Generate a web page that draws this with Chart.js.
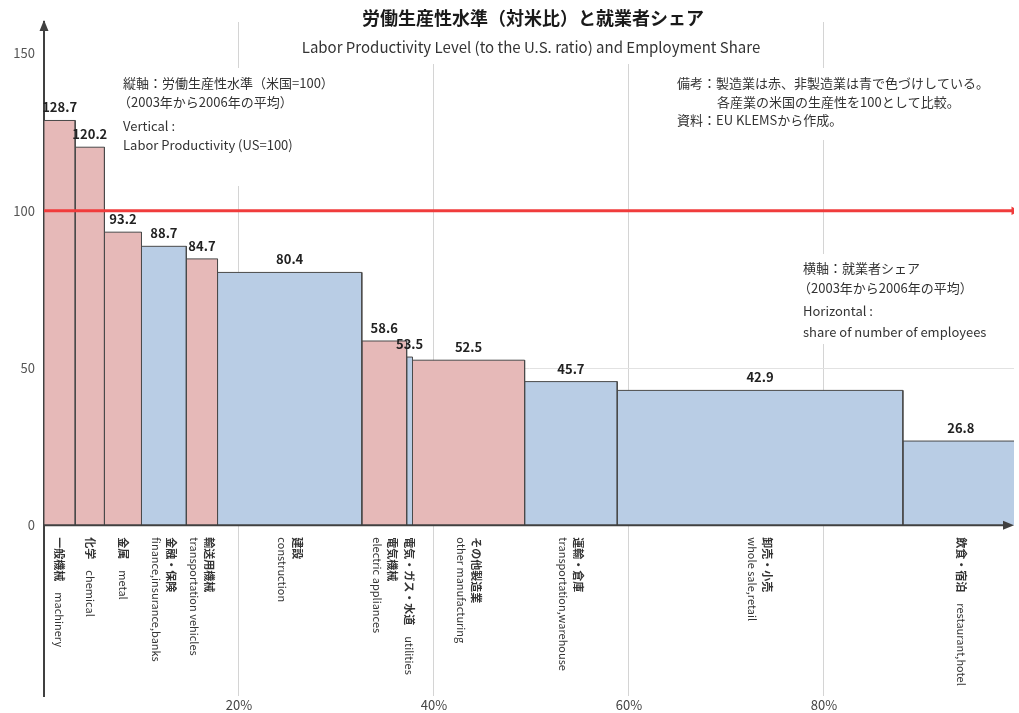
<!DOCTYPE html>
<html>
<head>
<meta charset="utf-8">
<title>労働生産性水準（対米比）と就業者シェア</title>
<script src="https://cdn.jsdelivr.net/npm/chart.js@4.4.0/dist/chart.umd.min.js"></script>
<style>
  html, body { margin: 0; padding: 0; background: #fff; }
  #wrap { width: 1019px; height: 713px; position: relative; }
</style>
</head>
<body>
<div id="wrap"><canvas id="chart"></canvas></div>
<script>
// Data
var catLabels = [
  ['一般機械　machinery'],
  ['化学　chemical'],
  ['金属　metal'],
  ['金融・保険', 'finance,insurance,banks'],
  ['輸送用機械', 'transportation vehicles'],
  ['建設', 'construction'],
  ['電気機械', 'electric appliances'],
  ['電気・ガス・水道　utilities'],
  ['その他製造業', 'other manufacturing'],
  ['運輸・倉庫', 'transportation,warehouse'],
  ['卸売・小売', 'whole sale,retail'],
  ['飲食・宿泊　restaurant,hotel']
];
// horizontal: share of employees (%)
var employShare = [3.2, 3.0, 3.8, 4.6, 3.2, 14.8, 4.6, 0.6, 11.5, 9.5, 29.3, 11.9];
// vertical: labor productivity (US = 100)
var productivity = [128.7, 120.2, 93.2, 88.7, 84.7, 80.4, 58.6, 53.5, 52.5, 45.7, 42.9, 26.8];
var isManufacturing = [true, true, true, false, true, false, true, false, true, false, false, false];
var usLevel = 100;
var yTicks = [0, 50, 100, 150];
var xTicks = [20, 40, 60, 80];

var FONT = '"Noto Sans CJK JP", "Noto Sans", sans-serif';
var RED_FILL = '#e6b9b8';
var BLUE_FILL = '#b9cde5';
var EDGE = '#4a4a4a';
var AXIS = '#404040';
var X_MAX = 99.5;

Chart.defaults.font.family = FONT;

// left edge of every bar = running sum of the shares before it
var shareStart = [];
var running = 0;
employShare.forEach(function(s) {
  shareStart.push(running);
  running += s;
});

var barDatasets = productivity.map(function(v, i) {
  var x0 = shareStart[i];
  var x1 = x0 + employShare[i];
  return {
    label: catLabels[i].join(' '),
    data: [{x: x0, y: 0}, {x: x0, y: v}, {x: x1, y: v}, {x: x1, y: 0}],
    fill: 'origin',
    backgroundColor: isManufacturing[i] ? RED_FILL : BLUE_FILL,
    borderColor: EDGE,
    borderWidth: 1,
    pointRadius: 0,
    tension: 0,
    order: 1
  };
});

var usLine = {
  label: 'US = 100',
  data: [{x: 0, y: usLevel}, {x: X_MAX, y: usLevel}],
  fill: false,
  borderColor: '#f03c3c',
  borderWidth: 3,
  pointRadius: [0, 5],
  pointStyle: 'triangle',
  rotation: 90,
  pointBackgroundColor: '#f03c3c',
  pointBorderWidth: 0,
  order: 0
};

function arrowHead(ctx, x, y, dir) {
  ctx.beginPath();
  if (dir === 'up') {
    ctx.moveTo(x, y);
    ctx.lineTo(x - 4.5, y + 11);
    ctx.lineTo(x + 4.5, y + 11);
  } else {
    ctx.moveTo(x, y);
    ctx.lineTo(x - 11, y - 4.5);
    ctx.lineTo(x - 11, y + 4.5);
  }
  ctx.closePath();
  ctx.fill();
}

// notes: white boxes hide the grid lines behind them, as in the original
var noteBoxes = [
  {x: 245, y: 0, w: 570, h: 64},
  {x: 116, y: 68, w: 256, h: 118},
  {x: 670, y: 68, w: 344, h: 72},
  {x: 796, y: 254, w: 220, h: 90}
];

function drawNotes(ctx) {
  ctx.save();
  ctx.fillStyle = '#fff';
  noteBoxes.forEach(function(b) { ctx.fillRect(b.x, b.y, b.w, b.h); });

  ctx.textBaseline = 'middle';
  ctx.textAlign = 'center';
  ctx.fillStyle = '#1a1a1a';
  ctx.font = 'bold 18px ' + FONT;
  ctx.fillText('労働生産性水準（対米比）と就業者シェア', 533, 18);
  ctx.fillStyle = '#333';
  ctx.font = '15px ' + FONT;
  ctx.fillText('Labor Productivity Level (to the U.S. ratio) and Employment Share', 531, 47);

  ctx.textAlign = 'left';
  ctx.font = '13px ' + FONT;
  ctx.fillStyle = '#333';
  ctx.fillText('縦軸：労働生産性水準（米国=100）', 123, 83);
  ctx.fillText('（2003年から2006年の平均）', 118, 102);
  ctx.fillText('Vertical :', 123, 126);
  ctx.fillText('Labor Productivity (US=100)', 123, 145);

  ctx.fillText('備考：製造業は赤、非製造業は青で色づけしている。', 677, 83);
  ctx.fillText('各産業の米国の生産性を100として比較。', 717, 102);
  ctx.fillText('資料：EU KLEMSから作成。', 677, 120);

  ctx.fillText('横軸：就業者シェア', 803, 268);
  ctx.fillText('（2003年から2006年の平均）', 798, 288);
  ctx.fillText('Horizontal :', 803, 311);
  ctx.fillText('share of number of employees', 803, 332);
  ctx.restore();
}

function drawCategoryLabel(ctx, lines, x, y) {
  var lineH = 15;
  ctx.save();
  ctx.translate(x, y);
  ctx.rotate(Math.PI / 2);
  ctx.textAlign = 'left';
  ctx.textBaseline = 'middle';
  ctx.fillStyle = '#333';
  lines.forEach(function(line, i) {
    var ly = (i - (lines.length - 1) / 2) * lineH;
    var m = line.match(/^([^\x00-\x7f]+)(.*)$/);
    var cjk = m ? m[1] : '';
    var latin = m ? m[2] : line;
    var lx = 0;
    if (cjk) {
      ctx.font = 'bold 11px ' + FONT;
      ctx.fillText(cjk, lx, ly);
      lx += ctx.measureText(cjk).width;
    }
    if (latin) {
      ctx.font = '11px ' + FONT;
      ctx.fillText(latin, lx, ly);
    }
  });
  ctx.restore();
}

var overlayPlugin = {
  id: 'overlay',
  beforeDatasetsDraw: function(chart) {
    drawNotes(chart.ctx);
  },
  afterDatasetsDraw: function(chart) {
    var ctx = chart.ctx;
    var xs = chart.scales.x;
    var ys = chart.scales.y;
    var area = chart.chartArea;
    var y0 = ys.getPixelForValue(0);

    ctx.save();
    // zero line as the horizontal axis, with arrows on both axes
    ctx.strokeStyle = AXIS;
    ctx.fillStyle = AXIS;
    ctx.lineWidth = 2;
    ctx.beginPath();
    ctx.moveTo(area.left, y0);
    ctx.lineTo(area.right - 8, y0);
    ctx.stroke();
    arrowHead(ctx, area.right, y0, 'right');
    arrowHead(ctx, area.left, area.top - 2, 'up');

    // values over bars
    ctx.font = 'bold 13px ' + FONT;
    ctx.fillStyle = '#222';
    ctx.textAlign = 'center';
    ctx.textBaseline = 'alphabetic';
    productivity.forEach(function(v, i) {
      var cx = xs.getPixelForValue(shareStart[i] + employShare[i] / 2);
      ctx.fillText(v.toFixed(1), cx, ys.getPixelForValue(v) - 8);
    });

    // category names under the axis
    catLabels.forEach(function(lines, i) {
      var cx = xs.getPixelForValue(shareStart[i] + employShare[i] / 2);
      drawCategoryLabel(ctx, lines, cx, y0 + 12);
    });
    ctx.restore();
  }
};

var chartCtx = document.getElementById('chart').getContext('2d');
var chart = new Chart(chartCtx, {
  type: 'line',
  data: {
    datasets: barDatasets.concat([usLine])
  },
  options: {
    responsive: true,
    maintainAspectRatio: false,
    animation: false,
    events: [],
    layout: {
      padding: {top: 22, right: 0, bottom: 0, left: 0}
    },
    scales: {
      x: {
        type: 'linear',
        min: 0,
        max: X_MAX,
        afterBuildTicks: function(scale) {
          scale.ticks = xTicks.map(function(v) { return {value: v}; });
        },
        afterFit: function(scale) {
          scale.height = 16;
        },
        border: {display: false},
        grid: {color: '#d4d4d4', lineWidth: 1, drawTicks: false},
        ticks: {
          padding: 1,
          maxRotation: 0,
          color: '#444',
          font: {size: 13},
          callback: function(v) { return v + '%'; }
        }
      },
      y: {
        type: 'linear',
        min: -54.3,
        max: 160,
        afterBuildTicks: function(scale) {
          scale.ticks = yTicks.map(function(v) { return {value: v}; });
        },
        afterFit: function(scale) {
          scale.width = 44;
        },
        border: {display: true, color: AXIS, width: 2},
        grid: {
          drawTicks: false,
          color: function(c) {
            return c.tick && c.tick.value === 50 ? '#e2e2e2' : 'rgba(0,0,0,0)';
          }
        },
        ticks: {
          padding: 9,
          color: '#555',
          font: {size: 13}
        }
      }
    },
    plugins: {
      legend: {display: false},
      title: {display: false},
      tooltip: {enabled: false}
    }
  },
  plugins: [overlayPlugin]
});
</script>
</body>
</html>
